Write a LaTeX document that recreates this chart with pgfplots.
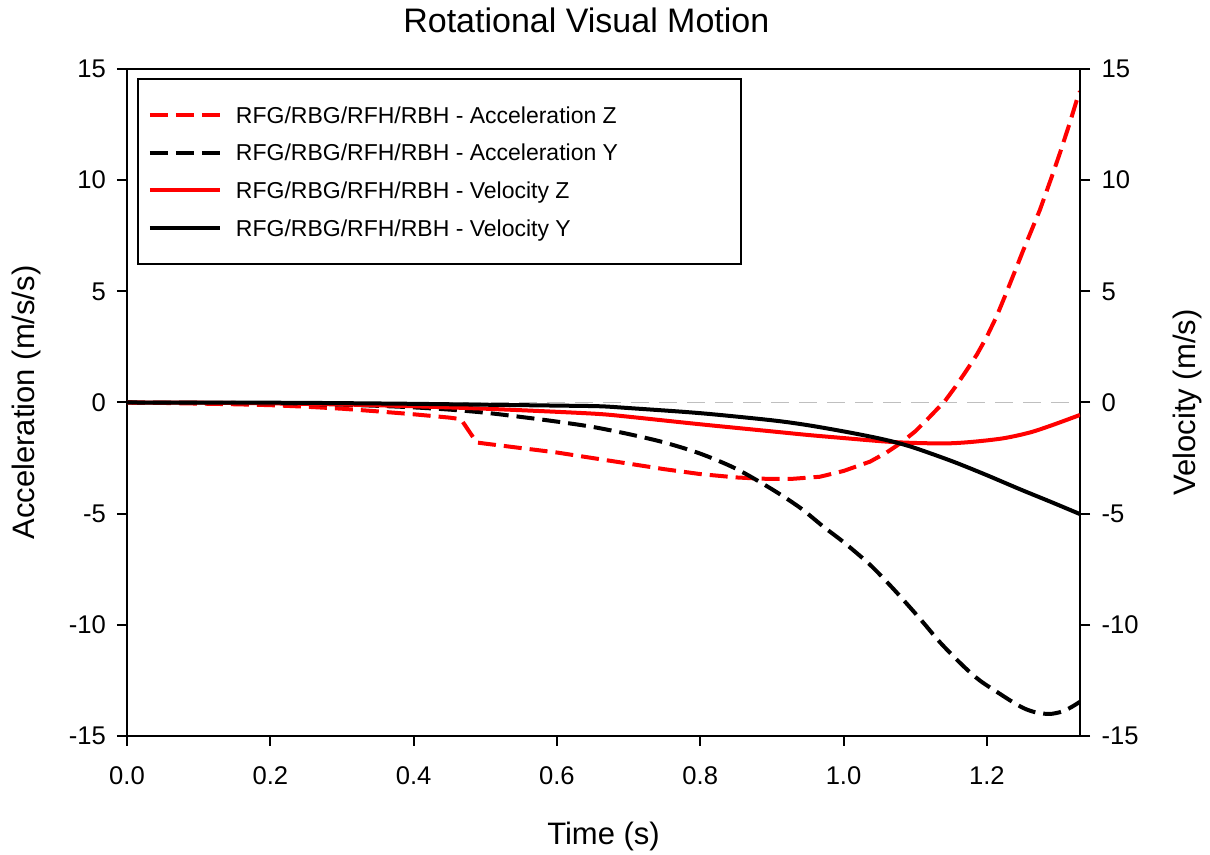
\documentclass[border=0pt]{standalone}
\usepackage{fontspec}
\setmainfont{Liberation Sans}
\usepackage{pgfplots}
\pgfplotsset{compat=1.18}

\pgfplotsset{
  base/.style={
    at={(63.5pt,59.5pt)}, anchor=south west,
    scale only axis, width=476.5pt, height=333.5pt,
    xmin=0, xmax=1.33, ymin=-15, ymax=15,
    tick align=outside, major tick length=5pt,
    axis line style={line width=1pt},
    every tick/.style={black, line width=1pt},
    tick label style={font=\fontsize{12.8}{15}\selectfont},
    /pgf/number format/assume math mode=true,
    label style={font=\fontsize{15.5}{18}\selectfont},
    ytick={-15,-10,-5,0,5,10,15},
    yticklabels={-15,-10,-5,0,5,10,15},
  },
  accz/.style={red, line width=2pt, dash pattern=on 9pt off 4pt, line join=round},
  accy/.style={black, line width=2pt, dash pattern=on 9pt off 4pt, line join=round},
  velz/.style={red, line width=2pt, line join=round},
  vely/.style={black, line width=2pt, line join=round},
}
\newcommand{\lent}[1]{\makebox[247.5pt][l]{#1}}

\begin{document}
\begin{tikzpicture}
\path[use as bounding box] (0,0) rectangle (605pt,427.5pt);

\begin{axis}[base,
  tick pos=left,
  xtick={0,0.2,0.4,0.6,0.8,1.0,1.2},
  xticklabels={0.0,0.2,0.4,0.6,0.8,1.0,1.2},
  xticklabel shift=7pt,
  yticklabel shift=2pt,
  title={Rotational Visual Motion},
  title style={font=\fontsize{17}{20}\selectfont, at={(axis description cs:0.482,1.036)}, anchor=base},
  xlabel={Time (s)},
  xlabel style={at={(axis description cs:0.5,-0.16342)}, anchor=base},
  ylabel={Acceleration (m/s/s)},
  ylabel style={at={(axis description cs:-0.09654,0.5)}, anchor=base},
]
\addplot[gray!50, line width=0.8pt, dash pattern=on 9pt off 5pt] coordinates {(0,0) (1.33,0)};
\addplot[accz] coordinates {
(0,0) (0.05,-0.02) (0.1,-0.05) (0.15,-0.08) (0.2,-0.12) (0.25,-0.19) (0.3,-0.28)
(0.35,-0.4) (0.4,-0.53) (0.45,-0.68) (0.466,-0.75) (0.488,-1.8) (0.5,-1.85)
(0.55,-2.05) (0.6,-2.25) (0.65,-2.5) (0.7,-2.75) (0.75,-3.0) (0.8,-3.22)
(0.85,-3.37) (0.88,-3.42) (0.9,-3.44) (0.93,-3.43) (0.967,-3.34) (1.0,-3.08)
(1.037,-2.66) (1.06,-2.25) (1.079,-1.84) (1.1,-1.3) (1.116,-0.79) (1.13,-0.32)
(1.14,0.0) (1.156,0.7) (1.172,1.46) (1.186,2.15) (1.2,2.96) (1.214,3.9)
(1.227,4.92) (1.251,6.86) (1.274,8.66) (1.29,10.1) (1.302,11.22) (1.315,12.5)
(1.325,13.55) (1.33,14.0)};
\addplot[accy, smooth, tension=0.5] coordinates {
(0,0) (0.1,-0.01) (0.2,-0.04) (0.3,-0.1) (0.35,-0.15) (0.4,-0.22) (0.45,-0.32)
(0.5,-0.46) (0.55,-0.65) (0.6,-0.86) (0.65,-1.1) (0.7,-1.42) (0.75,-1.8)
(0.8,-2.3) (0.85,-2.98) (0.9,-3.9) (0.94,-4.75) (0.972,-5.59) (1.0,-6.28)
(1.037,-7.3) (1.07,-8.4) (1.106,-9.7) (1.135,-10.8) (1.167,-11.85)
(1.19,-12.5) (1.218,-13.1) (1.24,-13.55) (1.255,-13.8) (1.27,-13.95)
(1.288,-14.01) (1.305,-13.9) (1.318,-13.7) (1.33,-13.46)};
\end{axis}

\begin{axis}[base,
  axis x line=none,
  axis y line*=right,
  yticklabel shift=2.3pt,
  ylabel={Velocity (m/s)},
  ylabel style={at={(axis description cs:1.12067,0.5)}, anchor=base},
  legend style={at={(axis description cs:0.01049,0.98651)}, anchor=north west,
    draw=black, line width=1pt, fill=white,
    inner xsep=5pt, inner ysep=12.1pt, row sep=7.05pt, column sep=7pt,
    font=\fontsize{11.5}{13}\selectfont,
    cells={anchor=west},
    nodes={inner sep=0pt, text height=10pt, text depth=1.8pt}},
  legend image code/.code={\draw[#1] (0pt,0pt) -- (35pt,0pt);},
]
\addlegendimage{accz}
\addlegendentry{\lent{RFG/RBG/RFH/RBH - Acceleration Z}}
\addlegendimage{accy}
\addlegendentry{\lent{RFG/RBG/RFH/RBH - Acceleration Y}}
\addplot[velz, smooth, tension=0.5] coordinates {
(0,0) (0.1,-0.01) (0.2,-0.04) (0.3,-0.09) (0.4,-0.17) (0.5,-0.28) (0.6,-0.42)
(0.66,-0.52) (0.7,-0.64) (0.8,-0.98) (0.9,-1.3) (0.95,-1.46) (1.0,-1.6)
(1.06,-1.76) (1.1,-1.82) (1.144,-1.84) (1.18,-1.77) (1.223,-1.61) (1.26,-1.35)
(1.292,-1.01) (1.33,-0.56)};
\addlegendentry{\lent{RFG/RBG/RFH/RBH - Velocity Z}}
\addplot[vely, smooth, tension=0.5] coordinates {
(0,0) (0.2,-0.01) (0.3,-0.03) (0.4,-0.06) (0.5,-0.1) (0.6,-0.14) (0.66,-0.17)
(0.7,-0.25) (0.8,-0.48) (0.9,-0.8) (0.95,-1.02) (1.0,-1.3) (1.04,-1.55)
(1.07,-1.77) (1.1,-2.05) (1.153,-2.66) (1.2,-3.27) (1.246,-3.9) (1.29,-4.48)
(1.33,-5.02)};
\addlegendentry{\lent{RFG/RBG/RFH/RBH - Velocity Y}}
\end{axis}
\end{tikzpicture}
\end{document}
